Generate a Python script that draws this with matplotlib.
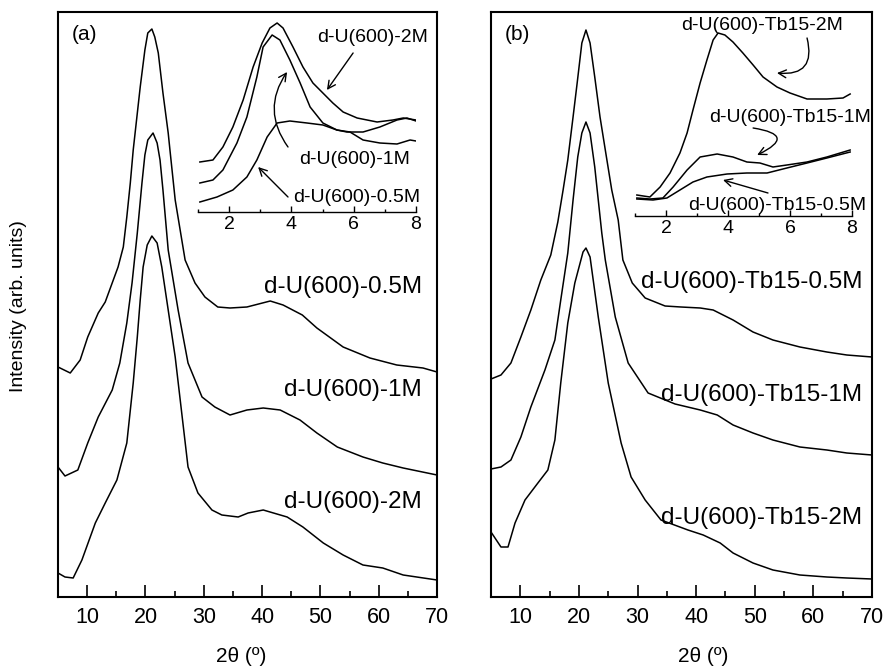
import numpy as np
import matplotlib.pyplot as plt
from matplotlib.ticker import MultipleLocator

plt.rcParams['font.family'] = ['Liberation Sans', 'DejaVu Sans']

# ---- panel (a): d-U(600) patterns (2theta, intensity arb.) ----
tt_a05 = [5.0, 7.1, 8.8, 10.1, 11.9, 13.1, 15.3, 16.2, 16.8, 17.4, 17.9, 19.1, 19.9, 20.4, 21.1, 21.6, 22.2, 23.0,
          23.9, 24.2, 25.1, 26.8, 28.5, 30.2, 32.4, 34.5, 37.4, 41.4, 43.6, 46.9, 49.4, 53.9, 58.5, 63.1, 67.6, 70.0]
i_a05 = [230, 224, 237, 260, 284, 295, 330, 350, 380, 414, 447, 510, 547, 564, 568, 560, 544, 504,
         464, 447, 397, 337, 314, 300, 290, 289, 290, 296, 292, 282, 269, 250, 239, 232, 229, 225]
tt_a1 = [5.0, 6.2, 8.4, 10.1, 11.9, 14.3, 15.6, 16.8, 17.7, 18.6, 19.4, 19.9, 20.4, 21.3, 22.0, 22.5, 23.0,
         23.9, 25.6, 27.3, 29.7, 31.9, 34.5, 37.4, 40.2, 43.1, 46.5, 49.4, 52.9, 57.3, 60.7, 64.2, 70.0]
i_a1 = [130, 121, 127, 154, 180, 207, 234, 274, 314, 364, 414, 442, 457, 464, 454, 437, 407,
        347, 287, 234, 200, 190, 182, 187, 189, 187, 177, 164, 150, 140, 134, 129, 122]
tt_a2 = [5.0, 6.2, 7.6, 9.1, 11.4, 13.1, 15.1, 16.8, 17.9, 18.6, 19.1, 19.6, 20.3, 21.1, 22.0, 22.8, 23.9,
         25.1, 26.3, 27.3, 29.0, 31.4, 33.1, 35.9, 37.6, 40.2, 44.3, 47.0, 50.5, 53.9, 57.3, 60.7, 64.2, 70.0]
i_a2 = [24, 20, 19, 37, 74, 94, 117, 154, 214, 260, 297, 330, 352, 361, 354, 330, 287,
        240, 180, 130, 104, 87, 82, 80, 84, 87, 80, 70, 54, 42, 32, 29, 22, 17]

# ---- panel (b): d-U(600)-Tb15 patterns ----
tt_b05 = [5.0, 6.7, 8.4, 10.1, 11.8, 13.5, 15.2, 16.4, 17.3, 18.1, 19.0, 19.7, 20.5, 21.2, 21.9, 22.7, 23.6,
          24.5, 25.6, 26.7, 27.5, 29.1, 31.3, 34.7, 37.4, 40.7, 42.9, 46.3, 49.7, 53.1, 57.7, 62.3, 65.7, 70.0]
i_b05 = [218, 222, 234, 260, 287, 317, 342, 375, 407, 437, 480, 514, 554, 567, 554, 520, 480,
         447, 407, 377, 337, 314, 299, 291, 290, 289, 287, 277, 265, 257, 250, 245, 242, 240]
tt_b1 = [5.0, 6.7, 8.4, 10.1, 11.8, 14.2, 15.9, 16.9, 18.1, 19.0, 19.8, 20.5, 21.2, 21.9, 22.7, 23.3,
         23.9, 24.5, 26.2, 28.4, 31.8, 36.4, 40.7, 43.6, 46.3, 49.7, 53.1, 57.7, 62.3, 65.7, 70.0]
i_b1 = [128, 130, 137, 160, 190, 227, 257, 297, 344, 397, 440, 464, 475, 464, 430, 397,
        364, 337, 280, 234, 204, 193, 187, 182, 172, 164, 157, 150, 147, 144, 142]
tt_b2 = [5.0, 6.7, 7.9, 9.1, 10.8, 13.0, 14.7, 15.9, 16.9, 18.1, 19.3, 20.7, 21.2, 21.9, 23.3,
         25.0, 27.2, 28.9, 31.3, 34.0, 38.6, 41.2, 44.1, 46.3, 49.7, 53.1, 57.7, 62.3, 65.7, 70.0]
i_b2 = [65, 50, 50, 74, 97, 114, 127, 157, 214, 274, 314, 345, 349, 340, 280,
        214, 154, 120, 97, 77, 67, 62, 54, 44, 34, 27, 22, 20, 19, 18]

# ---- insets, low angle region ----
ins_a2_x = [1.06, 1.48, 1.80, 2.12, 2.45, 2.77, 3.06, 3.31, 3.54, 3.73, 4.05, 4.37, 4.69, 5.01, 5.33, 5.66,
            6.11, 6.75, 7.26, 7.59, 8.0]
ins_a2_y = [50, 52, 65, 85, 112, 145, 169, 184, 189, 184, 165, 145, 129, 119, 109, 100, 94, 90, 92, 94, 92]
ins_a1_x = [1.06, 1.48, 1.80, 2.25, 2.57, 2.89, 3.09, 3.38, 3.63, 3.95, 4.28, 4.60, 5.01, 5.46, 5.88, 6.30,
            6.84, 7.39, 7.81, 8.0]
ins_a1_y = [29, 32, 42, 69, 95, 135, 165, 177, 172, 152, 129, 105, 89, 82, 80, 72, 69, 68, 72, 71]
ins_a05_x = [1.06, 1.61, 2.12, 2.57, 2.89, 3.22, 3.54, 3.95, 4.50, 5.01, 5.46, 5.78, 6.30, 6.84, 7.39, 7.71, 8.0]
ins_a05_y = [10, 15, 22, 35, 52, 75, 89, 91, 89, 87, 82, 80, 80, 85, 92, 94, 91]

ins_b2_x = [1.06, 1.48, 1.81, 2.13, 2.45, 2.68, 2.87, 3.10, 3.32, 3.52, 3.68, 3.90, 4.16, 4.48, 4.81, 5.13,
            5.58, 6.0, 6.55, 7.19, 7.71, 7.94]
ins_b2_y = [6, 4, 14, 28, 48, 68, 91, 118, 141, 161, 168, 166, 159, 148, 136, 124, 114, 108, 102, 102, 103, 107]
ins_b1_x = [1.06, 1.48, 1.90, 2.23, 2.68, 3.10, 3.65, 4.16, 4.61, 5.03, 5.45, 5.90, 6.55, 7.19, 7.94]
ins_b1_y = [3, 2, 3, 14, 31, 44, 47, 44, 39, 38, 34, 36, 39, 44, 51]
ins_b05_x = [1.06, 1.58, 2.03, 2.45, 2.87, 3.32, 3.97, 4.61, 5.26, 5.90, 6.55, 7.19, 7.94]
ins_b05_y = [2, 1, 3, 11, 19, 24, 27, 28, 28, 33, 38, 43, 49]

W, H = 885, 667
fig = plt.figure(figsize=(W / 100, H / 100), dpi=100)


def px_rect(x0, y0, x1, y1):
    return [x0 / W, (H - y1) / H, (x1 - x0) / W, (y1 - y0) / H]


def main_axes(rect, tag):
    ax = fig.add_axes(rect)
    ax.set_xlim(5, 70)
    ax.set_ylim(0, 585)
    ax.xaxis.set_major_locator(MultipleLocator(10))
    ax.xaxis.set_minor_locator(MultipleLocator(5))
    ax.set_yticks([])
    ax.tick_params(axis='x', which='major', direction='in', length=8.8, width=1.2, labelsize=15.5, pad=7)
    ax.tick_params(axis='x', which='minor', direction='in', length=4, width=1.2)
    for s in ax.spines.values():
        s.set_linewidth(1.5)
    ax.text(0.037, 0.961, tag, transform=ax.transAxes, fontsize=15, ha='left', va='center')
    return ax


def inset_axes(rect, ylim):
    ax = fig.add_axes(rect)
    ax.patch.set_alpha(0)
    ax.set_xlim(1, 8)
    ax.set_ylim(*ylim)
    for k in ['top', 'left', 'right']:
        ax.spines[k].set_visible(False)
    ax.spines['bottom'].set_linewidth(1.0)
    ax.set_yticks([])
    ax.set_xticks([2, 4, 6, 8])
    ax.xaxis.set_minor_locator(MultipleLocator(1))
    ax.tick_params(axis='x', which='major', direction='in', length=4, width=1.0, labelsize=14, pad=3)
    ax.tick_params(axis='x', which='minor', direction='in', length=2.2, width=1.0)
    return ax


lw = 1.1
arrow = '->,head_length=0.55,head_width=0.28'

# (a)
axa = main_axes(px_rect(58, 12, 437, 597), '(a)')
for xs, ys in [(tt_a05, i_a05), (tt_a1, i_a1), (tt_a2, i_a2)]:
    axa.plot(xs, ys, color='k', lw=lw)
fs_lab = 17.5
axa.text(67.4, 310, 'd-U(600)-0.5M', ha='right', va='center', fontsize=fs_lab)
axa.text(67.4, 207, 'd-U(600)-1M', ha='right', va='center', fontsize=fs_lab)
axa.text(67.4, 95, 'd-U(600)-2M', ha='right', va='center', fontsize=fs_lab)

ia = inset_axes(px_rect(198, 12, 416, 212), (0, 200))
for xs, ys in [(ins_a2_x, ins_a2_y), (ins_a1_x, ins_a1_y), (ins_a05_x, ins_a05_y)]:
    ia.plot(xs, ys, color='k', lw=lw)
fs_in = 14
ia.text(6.59, 175, 'd-U(600)-2M', ha='center', va='center', fontsize=fs_in)
ia.text(6.04, 52, 'd-U(600)-1M', ha='center', va='center', fontsize=fs_in)
ia.text(6.11, 15, 'd-U(600)-0.5M', ha='center', va='center', fontsize=fs_in)
ia.annotate('', xy=(5.14, 122), xytext=(5.98, 159),
            arrowprops=dict(arrowstyle=arrow, color='k', lw=1.0, shrinkA=0, shrinkB=0))
ia.annotate('', xy=(3.86, 140), xytext=(3.89, 65),
            arrowprops=dict(arrowstyle=arrow, color='k', lw=1.0, shrinkA=0, shrinkB=0,
                            connectionstyle='arc3,rad=-0.35'))
ia.annotate('', xy=(2.93, 45), xytext=(3.89, 15),
            arrowprops=dict(arrowstyle=arrow, color='k', lw=1.0, shrinkA=0, shrinkB=0))

# (b)
axb = main_axes(px_rect(491, 12, 872, 597), '(b)')
for xs, ys in [(tt_b05, i_b05), (tt_b1, i_b1), (tt_b2, i_b2)]:
    axb.plot(xs, ys, color='k', lw=lw)
axb.text(68.4, 315, 'd-U(600)-Tb15-0.5M', ha='right', va='center', fontsize=fs_lab)
axb.text(68.4, 202, 'd-U(600)-Tb15-1M', ha='right', va='center', fontsize=fs_lab)
axb.text(68.4, 79, 'd-U(600)-Tb15-2M', ha='right', va='center', fontsize=fs_lab)

ib = inset_axes(px_rect(635, 12, 852, 216), (-15, 189))
for xs, ys in [(ins_b2_x, ins_b2_y), (ins_b1_x, ins_b1_y), (ins_b05_x, ins_b05_y)]:
    ib.plot(xs, ys, color='k', lw=lw)
ib.text(5.10, 176, 'd-U(600)-Tb15-2M', ha='center', va='center', fontsize=fs_in)
ib.text(6.0, 83, 'd-U(600)-Tb15-1M', ha='center', va='center', fontsize=fs_in)
ib.text(5.58, -5, 'd-U(600)-Tb15-0.5M', ha='center', va='center', fontsize=fs_in)
ib.annotate('', xy=(5.58, 128), xytext=(6.55, 163),
            arrowprops=dict(arrowstyle=arrow, color='k', lw=1.0, shrinkA=0, shrinkB=0,
                            connectionstyle='arc3,rad=-0.7'))
ib.annotate('', xy=(4.94, 46), xytext=(4.81, 73),
            arrowprops=dict(arrowstyle=arrow, color='k', lw=1.0, shrinkA=0, shrinkB=0,
                            connectionstyle='arc3,rad=-1.6'))
ib.annotate('', xy=(3.84, 21), xytext=(5.29, 8),
            arrowprops=dict(arrowstyle=arrow, color='k', lw=1.0, shrinkA=0, shrinkB=0))

# axis titles
fig.text(241 / W, 1 - 657 / H, '2θ (º)', ha='center', va='center', fontsize=15)
fig.text(703 / W, 1 - 657 / H, '2θ (º)', ha='center', va='center', fontsize=15)
fig.text(19 / W, 1 - 306 / H, 'Intensity (arb. units)', rotation=90, ha='center', va='center', fontsize=14)

fig.savefig('out.png', dpi=100)
